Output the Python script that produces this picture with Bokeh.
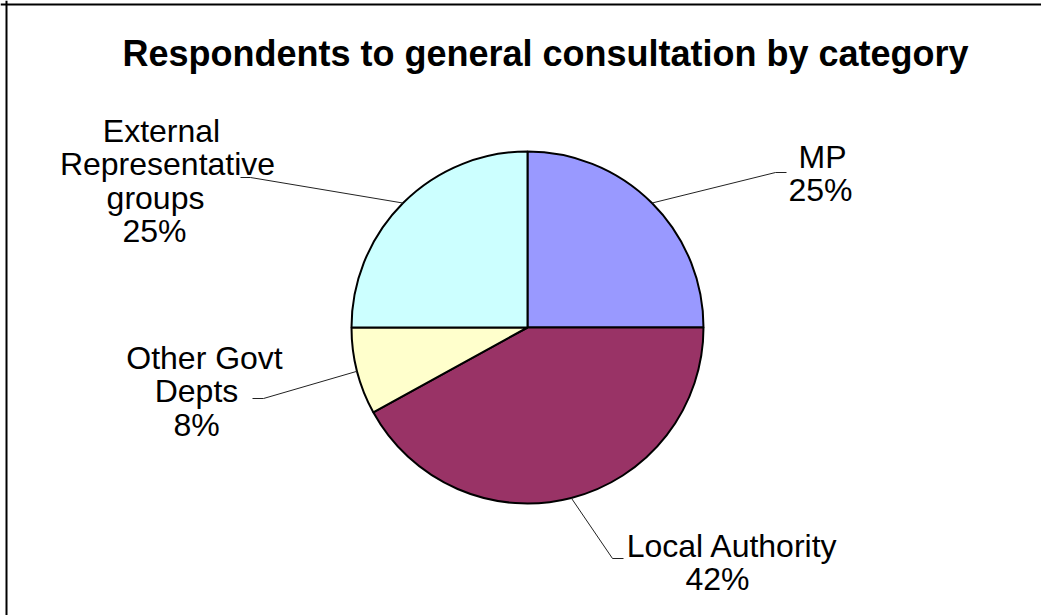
import math
from bokeh.plotting import figure
from bokeh.models import Range1d, Span
from bokeh.core.properties import value
from bokeh.embed import file_html
from bokeh.resources import INLINE

# ---- data ----
categories = ["MP", "Local Authority", "Other Govt Depts", "External Representative groups"]
label_lines = [["MP"], ["Local Authority"], ["Other Govt", "Depts"],
               ["External", "Representative", "groups"]]
shares = [25, 42, 8, 25]
colors = ["#9999FF", "#993366", "#FFFFCC", "#CCFFFF"]
title_text = "Respondents to general consultation by category"

# ---- layout (screen pixels, y measured from top) ----
W, H = 1041, 615
CX, CY_S, R = 527, 327, 176
CY = H - CY_S
LINE_GAP = 33.5
# first-line baseline y and per-line centre x for each label block
label_first_baseline = [156, 545, 357, 130]
label_line_x = [[822, 820], [732, 717], [204, 196, 196], [161, 167, 155, 154]]
leader_elbow = [(775, 172), (612, 558), (263, 398), (250, 177)]
leader_end = [(786, 172), (623, 558), (252, 398), (240, 177)]

p = figure(width=W, height=H, x_range=Range1d(0, W), y_range=Range1d(0, H),
           output_backend="svg", toolbar_location=None, min_border=0, title=None,
           x_axis_location=None, y_axis_location=None)
p.grid.visible = False
p.outline_line_color = None
p.background_fill_color = "white"
p.border_fill_color = "white"

total = float(sum(shares))
starts, ends, mids = [], [], []
cum = 0.0
for s in shares:
    a0 = math.pi / 2 - 2 * math.pi * cum / total
    cum += s
    a1 = math.pi / 2 - 2 * math.pi * cum / total
    starts.append(a0)
    ends.append(a1)
    mids.append((a0 + a1) / 2)

p.wedge(x=CX, y=CY, radius=R, start_angle=starts, end_angle=ends,
        direction="clock", fill_color=colors, line_color="black", line_width=2)

xs, ys = [], []
for m, el, en in zip(mids, leader_elbow, leader_end):
    sx = CX + R * math.cos(m)
    sy = CY + R * math.sin(m)
    xs.append([sx, el[0], en[0]])
    ys.append([sy, H - el[1], H - en[1]])
p.multi_line(xs=xs, ys=ys, line_color="#222222", line_width=1)

tx, ty, tt = [], [], []
for lines, s, b0, lx in zip(label_lines, shares, label_first_baseline, label_line_x):
    all_lines = lines + [f"{s}%"]
    for i, (ln, x) in enumerate(zip(all_lines, lx)):
        tx.append(x)
        ty.append(H - (b0 + i * LINE_GAP))
        tt.append(ln)
p.text(x=tx, y=ty, text=tt, text_font=value("Liberation Sans"), text_font_size="32px",
       text_align="center", text_baseline="alphabetic", text_color="black")

p.text(x=[545], y=[H - 53], text=[title_text], text_font=value("Liberation Sans"),
       text_font_size="36px", text_font_style="bold", text_align="center",
       text_baseline="alphabetic", text_color="black")

p.add_layout(Span(location=6, dimension="height", line_color="black", line_width=2))
p.add_layout(Span(location=H - 4, dimension="width", line_color="black", line_width=2))

open("out.html", "w").write(file_html(p, INLINE))
